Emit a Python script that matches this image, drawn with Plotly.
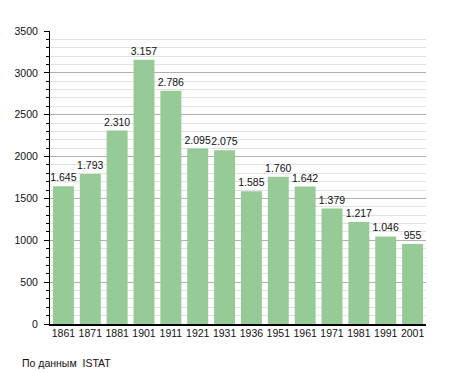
import plotly.graph_objects as go

years = ["1861", "1871", "1881", "1901", "1911", "1921", "1931", "1936", "1951", "1961", "1971", "1981", "1991", "2001"]
population = [1645, 1793, 2310, 3157, 2786, 2095, 2075, 1585, 1760, 1642, 1379, 1217, 1046, 955]
labels = [f"{v:,}".replace(",", ".") for v in population]

fig = go.Figure(go.Bar(
    x=years, y=population, text=labels, textposition="outside",
    constraintext="none",
    marker=dict(color="#96ca96", line=dict(width=0)),
    textfont=dict(size=10.5, color="#111"), cliponaxis=False,
))

fig.update_layout(
    width=455, height=373,
    margin=dict(l=50, r=29, t=31, b=49, autoexpand=False),
    plot_bgcolor="white", paper_bgcolor="white",
    font=dict(family="Liberation Sans, Arial, sans-serif", size=10.5, color="#111"),
    bargap=0.22, showlegend=False,
    xaxis=dict(showline=True, linecolor="black", linewidth=1.5, ticks="", showgrid=False,
               tickfont=dict(size=10.5), automargin=False, ticklabelstandoff=-1),
    yaxis=dict(range=[0, 3500], dtick=500, showline=True, linecolor="black", linewidth=1,
               ticks="outside", ticklen=5, tickcolor="black", showgrid=True,
               gridcolor="#b0b0b0", gridwidth=1, zeroline=False, automargin=False,
               minor=dict(dtick=100, ticks="outside", ticklen=3, tickcolor="black",
                          showgrid=True, gridcolor="#e2e2e2", gridwidth=1),
               tickfont=dict(size=10.5), ticklabelstandoff=4),
    annotations=[dict(text="По данным  ISTAT", xref="paper", yref="paper",
                      x=-0.08, y=-0.105, xanchor="left", yanchor="top",
                      showarrow=False, font=dict(size=10.5))],
)

fig.write_html("out.html", config={"displayModeBar": False},
               post_script="document.body.style.margin='0';document.body.style.overflow='hidden';")
